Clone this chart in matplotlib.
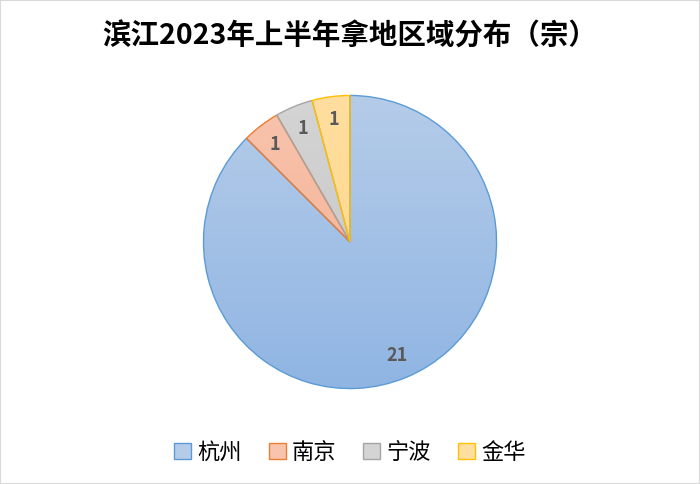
import numpy as np
import matplotlib
matplotlib.use('Agg')
import matplotlib.pyplot as plt
from matplotlib.patches import Patch, Rectangle
from matplotlib.colors import LinearSegmentedColormap

plt.rcParams['font.family'] = ['Noto Sans CJK SC', 'DejaVu Sans']

title = '滨江2023年上半年拿地区域分布（宗）'
cities = ['杭州', '南京', '宁波', '金华']
counts = [21, 1, 1, 1]

# gradient colours (top, bottom) and edge colours per slice
top_colors = ['#b5cce9', '#f8c4ad', '#d4d4d4', '#ffdea0']
bottom_colors = ['#90b5e3', '#f4ad8f', '#c4c4c4', '#ffd585']
edge_colors = ['#5b9bd5', '#ed7d31', '#a5a5a5', '#ffc000']

fig = plt.figure(figsize=(7, 4.84), dpi=100)
ax = fig.add_axes([0.2886, 0.1942, 0.4229, 0.6116])

wedges, texts = ax.pie(counts, startangle=90, counterclock=False,
                       labels=[str(c) for c in counts], labeldistance=0.84,
                       wedgeprops=dict(facecolor='none', linewidth=1.0),
                       textprops=dict(fontsize=13, fontweight='bold', color='#595959'))

grad = np.linspace(0, 1, 256).reshape(-1, 1)
for w, c_top, c_bot, ec in zip(wedges, top_colors, bottom_colors, edge_colors):
    w.set_edgecolor(ec)
    w.set_zorder(3)
    cmap = LinearSegmentedColormap.from_list('g', [c_top, c_bot])
    im = ax.imshow(grad, cmap=cmap, extent=[-1, 1, -1, 1], origin='upper',
                   aspect='auto', zorder=2)
    im.set_clip_path(w)

for t in texts:
    t.set_zorder(4)
    t.set_ha('center')
    t.set_va('center')

ax.set_xlim(-1.01, 1.01)
ax.set_ylim(-1.01, 1.01)
ax.set_aspect('equal')
ax.axis('off')

fig.text(0.5, 0.925, title, ha='center', va='center', fontsize=20.5, fontweight='bold', color='#000000')

handles = [Patch(facecolor=tc, edgecolor=ec, linewidth=1.0)
           for tc, ec in zip(top_colors, edge_colors)]
fig.legend(handles, cities, loc='center', bbox_to_anchor=(0.5, 0.066), ncol=4,
           frameon=False, fontsize=16, handlelength=0.75, handleheight=0.75,
           handletextpad=0.3, columnspacing=1.2,
           prop=dict(size=16, weight='medium'))

fig.patches.append(Rectangle((0, 0), 1, 1, transform=fig.transFigure, fill=False,
                             edgecolor='#d9d9d9', linewidth=1.5))

fig.savefig('out.png', dpi=100)
